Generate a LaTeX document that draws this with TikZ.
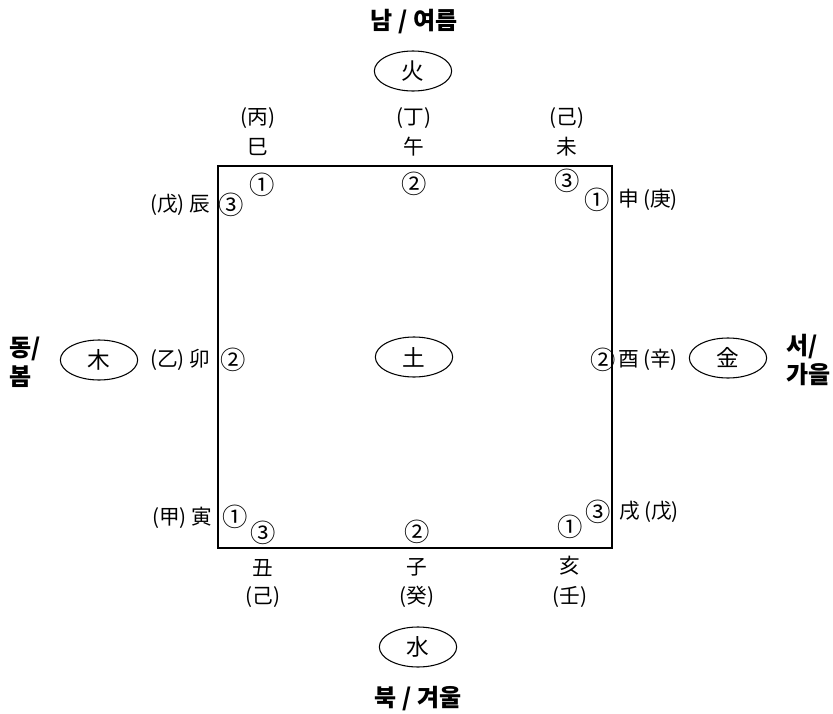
\documentclass[tikz,border=0pt]{standalone}
\usepackage{fontspec}
\setmainfont{Noto Sans CJK KR}
\usetikzlibrary{shapes.geometric}
\tikzset{
  lbl/.style={inner sep=0pt, font=\fontsize{15.5}{18}\selectfont},
  num/.style={inner sep=0pt, font=\fontsize{19}{21}\selectfont},
  dir/.style={inner sep=0pt, font=\fontsize{18}{22}\selectfont\bfseries, align=left},
  elem/.style={ellipse, draw, line width=0.8pt, minimum width=58pt, minimum height=30pt, inner sep=0pt, font=\fontsize{17}{19}\selectfont},
  frame/.style={draw, line width=0.8pt}
}
\begin{document}
\begin{tikzpicture}[x=0.75pt,y=-0.75pt]
\useasboundingbox (0,0) rectangle (833,714);
% square
\coordinate (tl) at (218,166);
\coordinate (br) at (612,548);
\draw[frame] (tl) rectangle (br);
% top
\node[dir] (nam) at (414,22) {남 / 여름};
\node[elem] (fire) at (413,71) {火};
\node[lbl] (p1) at (258,118) {(丙)};
\node[lbl] (b1) at (258,147) {巳};
\node[lbl] (p2) at (414,118) {(丁)};
\node[lbl] (b2) at (414,147) {午};
\node[lbl] (p3) at (567,118) {(己)};
\node[lbl] (b3) at (567,147) {未};
\node[num] (n1) at (262,185) {①};
\node[num] (n2) at (414,184) {②};
\node[num] (n3) at (567,181) {③};
% right top
\node[num] (n4) at (597,200) {①};
\node[lbl] (b4) at (648,200) {申 (庚)};
% left top
\node[lbl] (b5) at (180,205) {(戊) 辰};
\node[num] (n5) at (231,205) {③};
% middle left
\node[dir, anchor=west] (dong) at (9,362) {동/\\봄};
\node[elem] (wood) at (99,360) {木};
\node[lbl] (b6) at (180,360) {(乙) 卯};
\node[num] (n6) at (233,360) {②};
% center
\node[elem] (earth) at (414,357) {土};
% middle right
\node[num] (n7) at (603,360) {②};
\node[lbl] (b7) at (648,360) {酉 (辛)};
\node[elem] (metal) at (728,358) {金};
\node[dir, anchor=west] (seo) at (786,360) {서/\\가을};
% bottom left
\node[lbl] (b8) at (182,518) {(甲) 寅};
\node[num] (n8) at (235,517) {①};
\node[num] (n9) at (263,533) {③};
\node[lbl] (b9) at (263,568) {丑};
\node[lbl] (p9) at (263,597) {(己)};
% bottom middle
\node[num] (n10) at (417,532) {②};
\node[lbl] (b10) at (417,567) {子};
\node[lbl] (p10) at (417,597) {(癸)};
\node[elem] (water) at (418,647) {水};
\node[dir] (buk) at (418,699) {북 / 겨울};
% bottom right
\node[num] (n11) at (598,512) {③};
\node[lbl] (b11) at (649,512) {戌 (戊)};
\node[num] (n12) at (570,527) {①};
\node[lbl] (b12) at (570,566) {亥};
\node[lbl] (p12) at (570,597) {(壬)};
\end{tikzpicture}
\end{document}
